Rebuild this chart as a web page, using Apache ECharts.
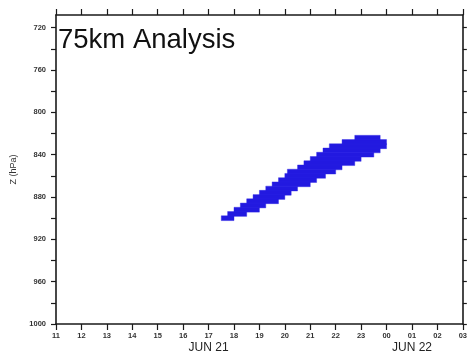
<!DOCTYPE html>
<html>
<head>
<meta charset="utf-8">
<script src="https://cdn.jsdelivr.net/npm/echarts@6/dist/echarts.min.js"></script>
<style>html,body{margin:0;padding:0;background:#fff}#c{width:470px;height:354px}</style>
</head>
<body>
<div id="c"></div>
<script>
// Time axis: hours (11 on Jun 21 .. 03 on Jun 22 as 27)
const xTicks = [11,12,13,14,15,16,17,18,19,20,21,22,23,24,25,26,27];
const dateLabels = {17: 'JUN 21', 25: 'JUN 22'};
// Pressure axis (hPa)
const zLabels = [720,760,800,840,880,920,960,1000];
const zTicks = [720,740,760,780,800,820,840,860,880,900,920,940,960,980,1000];
// Shaded rows: pressure band top (hPa, 4 hPa thick), start and end hour
const rowTop   = [822,826,830,834,838,842,846,850,854,858,862,866,870,874,878,882,886,890,894,898];
const rowStart = [22.75,22.25,21.75,21.5,21.25,21.0,20.75,20.5,20.1,20.0,19.75,19.5,19.25,19.0,18.75,18.5,18.25,18.0,17.75,17.5];
const rowEnd   = [23.75,24.0,24.0,23.75,23.5,23.0,22.75,22.25,22.0,21.6,21.25,21.0,20.5,20.25,20.0,19.75,19.25,19.0,18.5,18.0];
const rowThick = 4;

const cells = rowTop.map((p, i) => [rowStart[i], rowEnd[i], p, p + rowThick]);

const chart = echarts.init(document.getElementById('c'), null, {renderer: 'canvas'});
const axisLine = {show: true, lineStyle: {color: '#1a1a1a', width: 1.6}};
const tickStyle = {color: '#1a1a1a', width: 1.2};
const font = 'Liberation Sans, Arial, sans-serif';

chart.setOption({
  animation: false,
  backgroundColor: '#fff',
  grid: {left: 56, right: 3.5, top: 15, bottom: 30},
  xAxis: [{
    type: 'value', position: 'bottom', min: 11, max: 27, interval: 1,
    axisLine: axisLine, splitLine: {show: false},
    axisTick: {show: true, length: 6, lineStyle: tickStyle},
    axisLabel: {
      show: true, margin: 7, color: '#222', fontFamily: font,
      formatter: v => {
        const h = String(v % 24).padStart(2, '0');
        return dateLabels[v] ? '{h|' + h + '}\n{d|' + dateLabels[v] + '}' : '{h|' + h + '}';
      },
      rich: {
        h: {fontSize: 7.5, fontWeight: 'bold', lineHeight: 9, color: '#333', fontFamily: font},
        d: {fontSize: 12, lineHeight: 15, color: '#222', fontFamily: font}
      }
    }
  }, {
    type: 'value', position: 'top', min: 11, max: 27, interval: 1,
    axisLine: axisLine, splitLine: {show: false},
    axisTick: {show: true, length: 6, lineStyle: tickStyle},
    axisLabel: {show: false}
  }],
  yAxis: [{
    type: 'value', position: 'left', inverse: true, min: 708, max: 1000,
    name: 'Z (hPa)', nameLocation: 'middle', nameGap: 35, nameRotate: 90,
    nameTextStyle: {fontSize: 9, color: '#333', fontFamily: font},
    axisLine: axisLine, splitLine: {show: false},
    axisTick: {show: true, length: 5, lineStyle: tickStyle, customValues: zTicks},
    axisLabel: {show: true, margin: 10, fontSize: 7.5, fontWeight: 'bold', color: '#333', fontFamily: font,
      customValues: zLabels, formatter: v => String(v)}
  }, {
    type: 'value', position: 'right', inverse: true, min: 708, max: 1000,
    axisLine: axisLine, splitLine: {show: false},
    axisTick: {show: true, length: 4, lineStyle: tickStyle, customValues: zTicks},
    axisLabel: {show: false}
  }],
  graphic: [{
    type: 'text', left: 58, top: 26,
    style: {text: '75km Analysis', fontSize: 27.5, fontFamily: font, fill: '#111'}
  }],
  series: [{
    type: 'custom',
    xAxisIndex: 0, yAxisIndex: 0,
    clip: true,
    data: cells,
    encode: {x: [0, 1], y: [2, 3]},
    renderItem: function (params, api) {
      const a = api.coord([api.value(0), api.value(2)]);
      const b = api.coord([api.value(1), api.value(3)]);
      return {
        type: 'rect',
        shape: {x: Math.min(a[0], b[0]), y: Math.min(a[1], b[1]) - 0.3, width: Math.abs(b[0] - a[0]), height: Math.abs(b[1] - a[1]) + 0.6},
        style: {fill: '#2219e0', stroke: '#2a24e6', lineWidth: 0.4}
      };
    }
  }]
});
</script>
</body>
</html>
